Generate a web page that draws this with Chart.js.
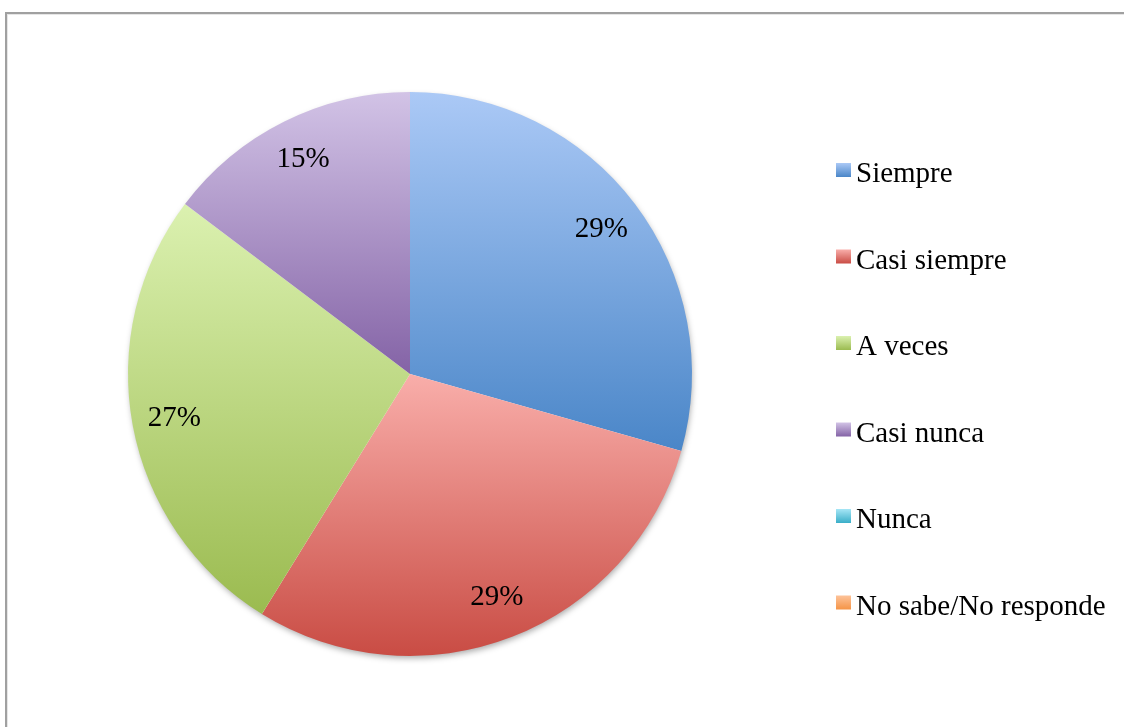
<!DOCTYPE html>
<html>
<head>
<meta charset="utf-8">
<script src="https://cdn.jsdelivr.net/npm/chart.js@4"></script>
<style>
    body { margin: 0; background: #fff; overflow: hidden; }
    #frame {
        position: absolute; left: 5px; top: 12px; width: 1130px; height: 730px;
        border-left: 2px solid #a0a0a0; border-top: 2px solid #a0a0a0;
        box-shadow: inset 1px 1px 0 #e6e6e6;
    }
    #chart { position: absolute; left: 0; top: 0; }
</style>
</head>
<body>
<div id="frame"></div>
<canvas id="chart" width="1124" height="727"></canvas>
<script>
// Survey answers (percent of respondents)
const categories = ['Siempre', 'Casi siempre', 'A veces', 'Casi nunca', 'Nunca', 'No sabe/No responde'];
const percentages = [29.4, 29.4, 26.5, 14.7, 0, 0];

// Office-style gradients: lighter on top, darker at the bottom
const topColors = ['#abc9f6', '#f9aeaa', '#dbf1b0', '#d2c3e6', '#a6e6f6', '#fdc39a'];
const bottomColors = ['#4a86c8', '#c94c44', '#9bbb50', '#8463a6', '#3aaec8', '#f59446'];

const labelFont = '29px "Liberation Serif", "DejaVu Serif", serif';

function sliceGradient(ctx, arc, i) {
    const { x, y, startAngle, endAngle, outerRadius } = arc.getProps(['x', 'y', 'startAngle', 'endAngle', 'outerRadius']);
    let ymin = y, ymax = y;
    for (let k = 0; k <= 100; k++) {
        const a = startAngle + (endAngle - startAngle) * k / 100;
        const py = y + outerRadius * Math.sin(a);
        ymin = Math.min(ymin, py);
        ymax = Math.max(ymax, py);
    }
    const g = ctx.createLinearGradient(0, ymin, 0, ymax);
    g.addColorStop(0, topColors[i]);
    g.addColorStop(1, bottomColors[i]);
    return g;
}

const pieStyle = {
    id: 'pieStyle',
    beforeDatasetsDraw(chart) {
        const ctx = chart.ctx;
        const arcs = chart.getDatasetMeta(0).data;
        if (!arcs.length) return;
        const { x, y, outerRadius } = arcs[0];
        // soft shadow under the whole pie
        ctx.save();
        ctx.shadowColor = 'rgba(0,0,0,0.35)';
        ctx.shadowBlur = 6;
        ctx.shadowOffsetX = 1;
        ctx.shadowOffsetY = 3;
        ctx.fillStyle = '#ffffff';
        ctx.beginPath();
        ctx.arc(x, y, outerRadius - 1, 0, Math.PI * 2);
        ctx.fill();
        ctx.restore();
        arcs.forEach((arc, i) => {
            arc.options.backgroundColor = sliceGradient(ctx, arc, i);
        });
    },
    afterDatasetsDraw(chart) {
        const ctx = chart.ctx;
        const values = chart.data.datasets[0].data;
        ctx.save();
        ctx.font = labelFont;
        ctx.fillStyle = '#000';
        ctx.textAlign = 'center';
        ctx.textBaseline = 'middle';
        chart.getDatasetMeta(0).data.forEach((arc, i) => {
            if (!values[i]) return;
            const mid = (arc.startAngle + arc.endAngle) / 2;
            const r = arc.outerRadius * 0.85;
            ctx.fillText(Math.round(values[i]) + '%', arc.x + r * Math.cos(mid), arc.y + r * Math.sin(mid));
        });
        ctx.restore();
    },
    afterDraw(chart) {
        // legend on the right
        const ctx = chart.ctx;
        ctx.save();
        ctx.font = labelFont;
        ctx.textBaseline = 'alphabetic';
        chart.data.labels.forEach((label, i) => {
            const cy = 170 + i * 86.5;
            const g = ctx.createLinearGradient(0, cy - 7, 0, cy + 7);
            g.addColorStop(0, topColors[i]);
            g.addColorStop(1, bottomColors[i]);
            ctx.fillStyle = g;
            ctx.fillRect(836, cy - 7, 15, 14);
            ctx.fillStyle = '#000';
            ctx.fillText(label, 856, cy + 12);
        });
        ctx.restore();
    }
};

new Chart(document.getElementById('chart'), {
    type: 'pie',
    data: {
        labels: categories,
        datasets: [{
            data: percentages,
            backgroundColor: topColors,
            borderWidth: 0,
            hoverOffset: 0
        }]
    },
    options: {
        responsive: false,
        animation: false,
        layout: { padding: { top: 92, bottom: 71, left: 128, right: 432 } },
        plugins: {
            legend: { display: false },
            tooltip: { enabled: false }
        }
    },
    plugins: [pieStyle]
});
</script>
</body>
</html>
